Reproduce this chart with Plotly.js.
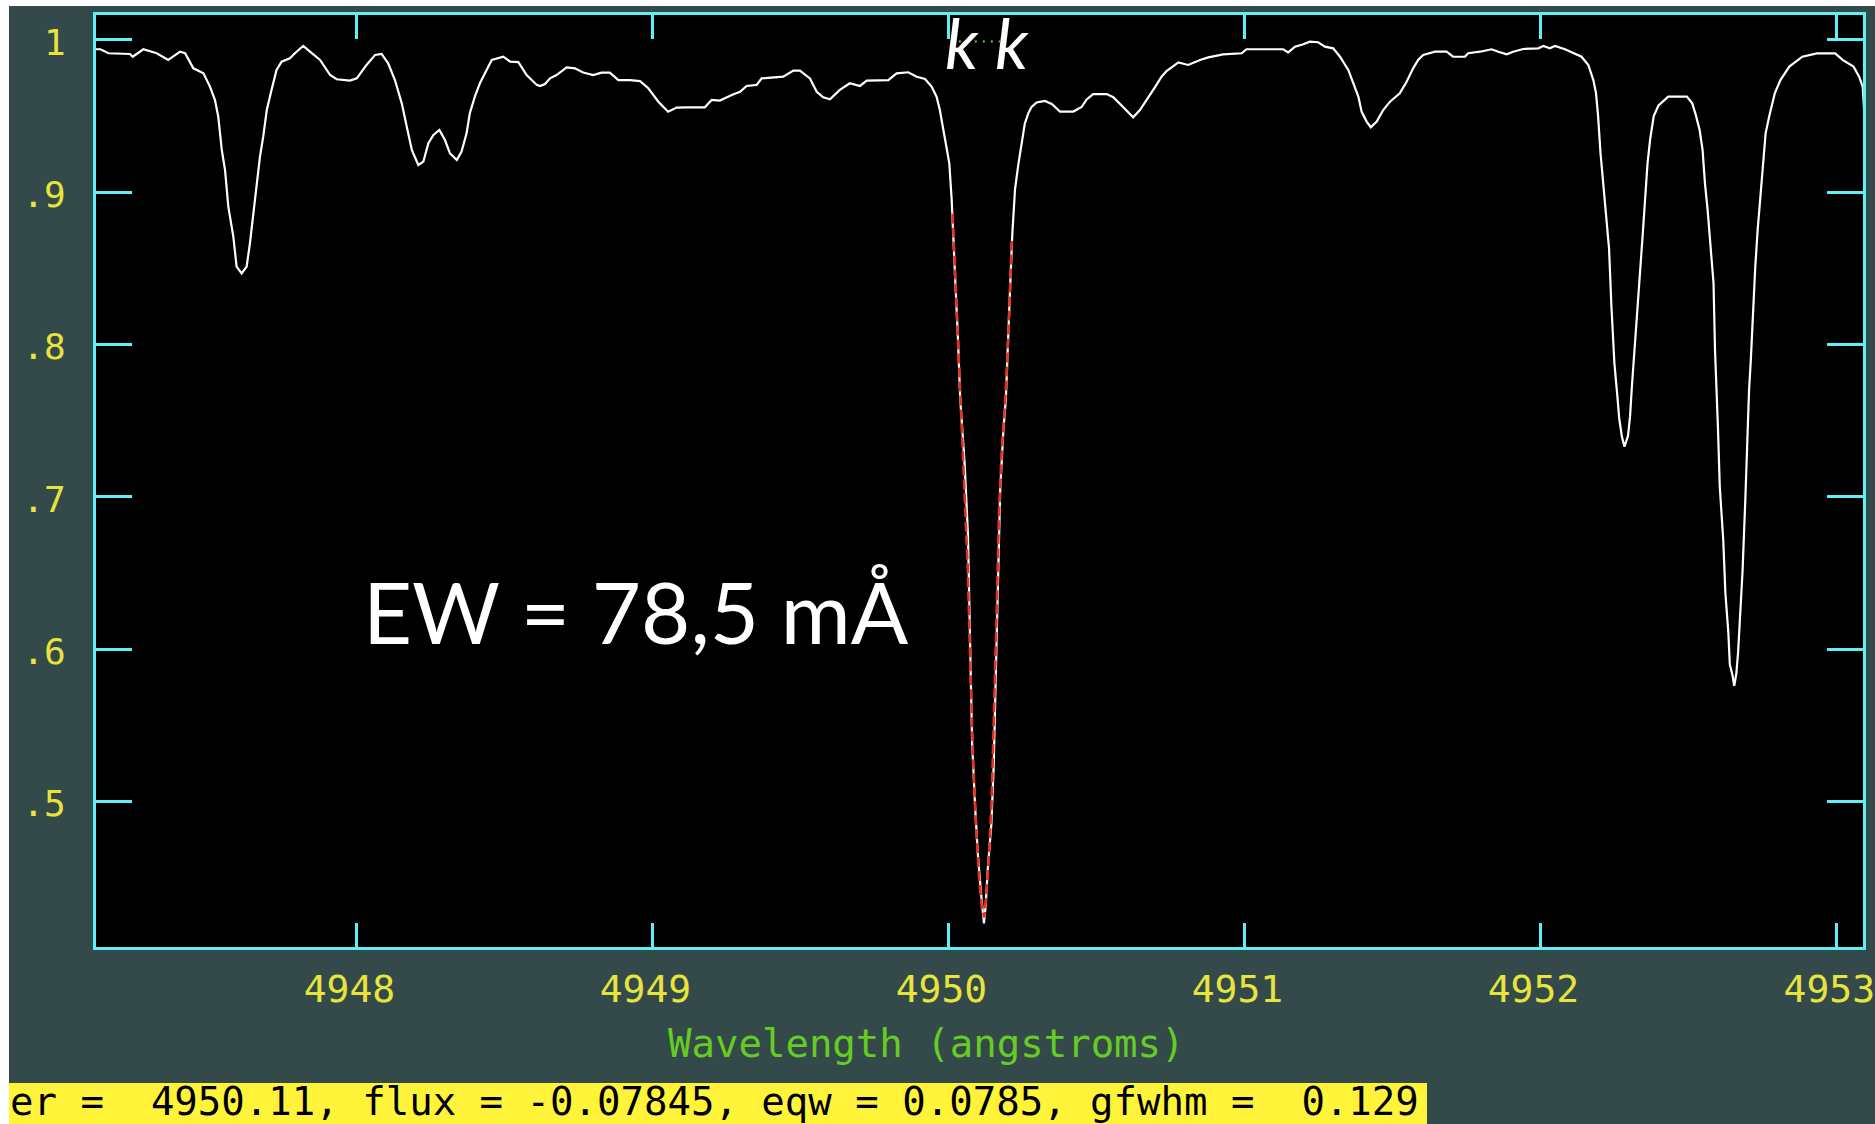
<!DOCTYPE html>
<html>
<head>
<meta charset="utf-8">
<script src="https://cdn.plot.ly/plotly-3.0.1.min.js"></script>
<style>
  html, body { margin: 0; padding: 0; background: #ffffff; overflow: hidden; }
  #plot { width: 1875px; height: 1124px; }
</style>
</head>
<body>
<div id="plot"></div>
<script>
// Normalised spectrum around 4950 A (wavelength in angstroms)
const wave = [
  4947.117, 4947.135, 4947.162, 4947.235, 4947.244, 4947.280, 4947.325, 4947.364, 4947.404, 4947.421,
  4947.449, 4947.483, 4947.505, 4947.522, 4947.533, 4947.545, 4947.556, 4947.567, 4947.584, 4947.595,
  4947.612, 4947.629, 4947.640, 4947.651, 4947.663, 4947.674, 4947.685, 4947.697, 4947.713, 4947.730,
  4947.747, 4947.775, 4947.792, 4947.820, 4947.843, 4947.877, 4947.911, 4947.933, 4947.978, 4948.001,
  4948.034, 4948.063, 4948.085, 4948.107, 4948.130, 4948.153, 4948.170, 4948.187, 4948.209, 4948.226,
  4948.243, 4948.260, 4948.280, 4948.299, 4948.316, 4948.339, 4948.355, 4948.372, 4948.383, 4948.400,
  4948.417, 4948.434, 4948.457, 4948.496, 4948.519, 4948.547, 4948.575, 4948.609, 4948.620, 4948.637,
  4948.654, 4948.676, 4948.710, 4948.738, 4948.766, 4948.800, 4948.828, 4948.856, 4948.885, 4948.924,
  4948.958, 4948.986, 4949.020, 4949.053, 4949.082, 4949.116, 4949.177, 4949.200, 4949.228, 4949.268,
  4949.296, 4949.318, 4949.352, 4949.369, 4949.442, 4949.476, 4949.498, 4949.532, 4949.555, 4949.577,
  4949.600, 4949.633, 4949.667, 4949.701, 4949.724, 4949.797, 4949.825, 4949.864, 4949.893, 4949.921,
  4949.943, 4949.960, 4949.971, 4949.983, 4949.994, 4950.003, 4950.011, 4950.016, 4950.024, 4950.032,
  4950.040, 4950.055, 4950.066, 4950.073, 4950.080, 4950.090, 4950.100, 4950.111, 4950.120, 4950.126,
  4950.133, 4950.145, 4950.153, 4950.160, 4950.168, 4950.175, 4950.186, 4950.194, 4950.198, 4950.203,
  4950.210, 4950.216, 4950.225, 4950.236, 4950.247, 4950.258, 4950.270, 4950.281, 4950.298, 4950.326,
  4950.349, 4950.377, 4950.422, 4950.450, 4950.467, 4950.489, 4950.535, 4950.557, 4950.591, 4950.624,
  4950.647, 4950.670, 4950.698, 4950.720, 4950.737, 4950.777, 4950.810, 4950.850, 4950.878, 4950.928,
  4950.991, 4951.007, 4951.131, 4951.148, 4951.171, 4951.199, 4951.221, 4951.249, 4951.272, 4951.300,
  4951.323, 4951.351, 4951.368, 4951.385, 4951.396, 4951.413, 4951.427, 4951.447, 4951.469, 4951.492,
  4951.525, 4951.548, 4951.570, 4951.587, 4951.604, 4951.644, 4951.683, 4951.705, 4951.745, 4951.756,
  4951.796, 4951.835, 4951.858, 4951.886, 4951.908, 4951.942, 4951.993, 4952.010, 4952.032, 4952.049,
  4952.083, 4952.111, 4952.139, 4952.162, 4952.179, 4952.188, 4952.195, 4952.203, 4952.212, 4952.221,
  4952.232, 4952.240, 4952.250, 4952.261, 4952.266, 4952.275, 4952.284, 4952.296, 4952.303, 4952.309,
  4952.317, 4952.327, 4952.337, 4952.346, 4952.355, 4952.362, 4952.371, 4952.383, 4952.399, 4952.432,
  4952.495, 4952.513, 4952.525, 4952.538, 4952.548, 4952.556, 4952.565, 4952.575, 4952.585, 4952.590,
  4952.597, 4952.600, 4952.606, 4952.618, 4952.625, 4952.635, 4952.640, 4952.649, 4952.655, 4952.662,
  4952.668, 4952.674, 4952.683, 4952.693, 4952.701, 4952.705, 4952.711, 4952.718, 4952.726, 4952.734,
  4952.742, 4952.751, 4952.761, 4952.773, 4952.792, 4952.811, 4952.841, 4952.885, 4952.934, 4952.996,
  4953.021, 4953.058, 4953.077, 4953.089, 4953.095
];
const flux = [
  0.9939, 0.9939, 0.9913, 0.9908, 0.9890, 0.9939, 0.9913, 0.9869, 0.9923, 0.9913,
  0.9814, 0.9781, 0.9694, 0.9606, 0.9497, 0.9278, 0.9146, 0.8906, 0.8709, 0.8512,
  0.8468, 0.8512, 0.8665, 0.8840, 0.9059, 0.9234, 0.9365, 0.9540, 0.9672, 0.9803,
  0.9858, 0.9880, 0.9913, 0.9961, 0.9923, 0.9869, 0.9770, 0.9742, 0.9733, 0.9748,
  0.9836, 0.9902, 0.9908, 0.9847, 0.9737, 0.9584, 0.9431, 0.9278, 0.9179, 0.9201,
  0.9322, 0.9376, 0.9409, 0.9343, 0.9256, 0.9212, 0.9267, 0.9387, 0.9519, 0.9628,
  0.9716, 0.9781, 0.9869, 0.9890, 0.9858, 0.9855, 0.9770, 0.9705, 0.9698, 0.9711,
  0.9748, 0.9770, 0.9820, 0.9814, 0.9786, 0.9770, 0.9786, 0.9786, 0.9737, 0.9737,
  0.9730, 0.9683, 0.9595, 0.9529, 0.9556, 0.9558, 0.9558, 0.9606, 0.9602, 0.9639,
  0.9660, 0.9698, 0.9705, 0.9748, 0.9759, 0.9799, 0.9799, 0.9748, 0.9660, 0.9624,
  0.9610, 0.9672, 0.9716, 0.9698, 0.9733, 0.9737, 0.9781, 0.9788, 0.9759, 0.9744,
  0.9694, 0.9628, 0.9540, 0.9409, 0.9300, 0.9190, 0.8950, 0.8690, 0.8380, 0.8050,
  0.7640, 0.7210, 0.6750, 0.6070, 0.5390, 0.4970, 0.4640, 0.4380, 0.4200, 0.4320,
  0.4560, 0.4850, 0.5240, 0.5830, 0.6580, 0.7050, 0.7450, 0.7640, 0.7850, 0.8160,
  0.8450, 0.8730, 0.9020, 0.9180, 0.9320, 0.9450, 0.9520, 0.9560, 0.9590, 0.9600,
  0.9580, 0.9530, 0.9530, 0.9560, 0.9610, 0.9645, 0.9645, 0.9624, 0.9558, 0.9492,
  0.9540, 0.9606, 0.9690, 0.9759, 0.9796, 0.9853, 0.9836, 0.9869, 0.9886, 0.9906,
  0.9913, 0.9939, 0.9939, 0.9919, 0.9956, 0.9972, 0.9989, 0.9985, 0.9956, 0.9945,
  0.9890, 0.9803, 0.9716, 0.9628, 0.9529, 0.9464, 0.9427, 0.9464, 0.9540, 0.9595,
  0.9650, 0.9726, 0.9814, 0.9869, 0.9902, 0.9923, 0.9923, 0.9890, 0.9890, 0.9913,
  0.9923, 0.9939, 0.9923, 0.9906, 0.9923, 0.9941, 0.9945, 0.9961, 0.9945, 0.9961,
  0.9939, 0.9913, 0.9890, 0.9836, 0.9737, 0.9650, 0.9500, 0.9260, 0.9080, 0.8870,
  0.8630, 0.8250, 0.7880, 0.7640, 0.7520, 0.7400, 0.7330, 0.7400, 0.7530, 0.7720,
  0.7940, 0.8205, 0.8424, 0.8730, 0.8990, 0.9190, 0.9350, 0.9500, 0.9570, 0.9628,
  0.9628, 0.9584, 0.9508, 0.9409, 0.9278, 0.9059, 0.8884, 0.8643, 0.8403, 0.7965,
  0.7636, 0.7450, 0.7070, 0.6710, 0.6370, 0.6110, 0.5900, 0.5830, 0.5760, 0.5840,
  0.5980, 0.6210, 0.6510, 0.7015, 0.7566, 0.7700, 0.7900, 0.8227, 0.8511, 0.8752,
  0.8949, 0.9190, 0.9387, 0.9497, 0.9650, 0.9737, 0.9825, 0.9890, 0.9912, 0.9912,
  0.9869, 0.9825, 0.9759, 0.9693, 0.9500
];

// Gaussian fit drawn over the 4950.11 line
const fitWave = [
  4950.014, 4950.020, 4950.028, 4950.036, 4950.045, 4950.055, 4950.065, 4950.074, 4950.083, 4950.093,
  4950.103, 4950.113, 4950.121, 4950.128, 4950.136, 4950.146, 4950.155, 4950.163, 4950.171, 4950.180,
  4950.190, 4950.198, 4950.206, 4950.214
];
const fitFlux = [
  0.886, 0.858, 0.822, 0.785, 0.745, 0.705, 0.655, 0.590, 0.530, 0.485,
  0.452, 0.430, 0.424, 0.438, 0.462, 0.500, 0.560, 0.625, 0.690, 0.730,
  0.758, 0.785, 0.825, 0.868
];

// Continuum level between the two cursor marks
const contWave = [4950.008, 4950.175];
const contFlux = [0.9990, 0.9990];
const markWave = [4950.045, 4950.216];
const markText = ['k', 'k'];

const xTicks = [4948, 4949, 4950, 4951, 4952, 4953];
const xTickText = ['4948', '4949', '4950', '4951', '4952', '4953'];
const yTicks = [0.5, 0.6, 0.7, 0.8, 0.9, 1.0];
const yTickText = ['.5', '.6', '.7', '.8', '.9', '1'];

const xTitle = 'Wavelength (angstroms)';
const statusLine = 'er =\u00a0\u00a04950.11, flux = -0.07845, eqw = 0.0785, gfwhm =\u00a0\u00a00.129';
const ewLabel = 'EW = 78,5 mÅ';

const CYAN = '#5ff0f6';
const SLATE = '#344a4a';
const TICK_YELLOW = '#e9e43c';
const BAR_YELLOW = '#fff43a';
const GREEN = '#66cc22';
const MONO = 'DejaVu Sans Mono, Liberation Mono, monospace';
const SANS = 'Lato, Open Sans, sans-serif';

const traces = [
  {
    x: wave, y: flux, type: 'scatter', mode: 'lines',
    line: { color: '#ffffff', width: 2.2 }, hoverinfo: 'skip'
  },
  {
    x: fitWave, y: fitFlux, type: 'scatter', mode: 'lines',
    line: { color: '#e8321e', width: 2.6, dash: '10px,4px' }, hoverinfo: 'skip'
  },
  {
    x: contWave, y: contFlux, type: 'scatter', mode: 'lines',
    line: { color: '#55dd22', width: 2, dash: '2px,6px' }, hoverinfo: 'skip'
  }
];

const axisCommon = {
  showline: true, linecolor: CYAN, linewidth: 3, mirror: 'ticks',
  ticks: 'inside', tickcolor: CYAN, tickwidth: 3,
  showgrid: false, zeroline: false, fixedrange: true,
  tickmode: 'array', ticklabeloverflow: 'allow'
};

const layout = {
  width: 1875, height: 1124,
  margin: { l: 96, r: 12, t: 15, b: 177, pad: 0 },
  paper_bgcolor: SLATE,
  plot_bgcolor: '#000000',
  showlegend: false,
  xaxis: Object.assign({}, axisCommon, {
    range: [4947.12, 4953.09],
    tickvals: xTicks, ticktext: xTickText,
    ticklen: 24,
    tickfont: { family: MONO, size: 38, color: TICK_YELLOW },
    ticklabelstandoff: 6,
    ticklabelshift: -7
  }),
  yaxis: Object.assign({}, axisCommon, {
    range: [0.4045, 1.0164],
    tickvals: yTicks, ticktext: yTickText,
    ticklen: 36,
    tickfont: { family: MONO, size: 36, color: TICK_YELLOW },
    ticklabelstandoff: 20,
    ticklabelshift: 2
  }),
  shapes: [
    // white page margin, left and top
    { type: 'rect', layer: 'above', xref: 'paper', yref: 'paper',
      xsizemode: 'pixel', ysizemode: 'pixel', xanchor: 0, yanchor: 0,
      x0: -100, x1: -87, y0: -190, y1: 960,
      fillcolor: '#ffffff', line: { width: 0 } },
    { type: 'rect', layer: 'above', xref: 'paper', yref: 'paper',
      xsizemode: 'pixel', ysizemode: 'pixel', xanchor: 0, yanchor: 0,
      x0: -100, x1: 1800, y0: 941, y1: 960,
      fillcolor: '#ffffff', line: { width: 0 } },
    // status bar
    { type: 'rect', layer: 'above', xref: 'paper', yref: 'paper',
      xsizemode: 'pixel', ysizemode: 'pixel', xanchor: 0, yanchor: 0,
      x0: -87, x1: 1331, y0: -190, y1: -136,
      fillcolor: BAR_YELLOW, line: { width: 0 } }
  ],
  annotations: [
    { xref: 'paper', yref: 'paper', x: 0, y: 0, xanchor: 'center', yanchor: 'middle',
      xshift: 830, yshift: -96, showarrow: false, text: xTitle,
      font: { family: MONO, size: 39, color: GREEN } },
    { xref: 'paper', yref: 'paper', x: 0, y: 0, xanchor: 'left', yanchor: 'middle',
      xshift: -88, yshift: -154, showarrow: false, text: statusLine,
      font: { family: MONO, size: 39, color: '#000000' } },
    { xref: 'paper', yref: 'paper', x: 0, y: 0, xanchor: 'left', yanchor: 'middle',
      xshift: 265, yshift: 336, showarrow: false, text: ewLabel,
      font: { family: SANS, size: 85, color: '#ffffff' } },
    { xref: 'x', yref: 'paper', x: markWave[0], y: 0, xanchor: 'center', yanchor: 'middle',
      yshift: 905, showarrow: false, text: '<i>' + markText[0] + '</i>',
      font: { family: SANS, size: 70, color: '#ffffff' } },
    { xref: 'x', yref: 'paper', x: markWave[1], y: 0, xanchor: 'center', yanchor: 'middle',
      yshift: 905, showarrow: false, text: '<i>' + markText[1] + '</i>',
      font: { family: SANS, size: 70, color: '#ffffff' } }
  ]
};

Plotly.newPlot('plot', traces, layout, { displayModeBar: false, staticPlot: true });
</script>
</body>
</html>
